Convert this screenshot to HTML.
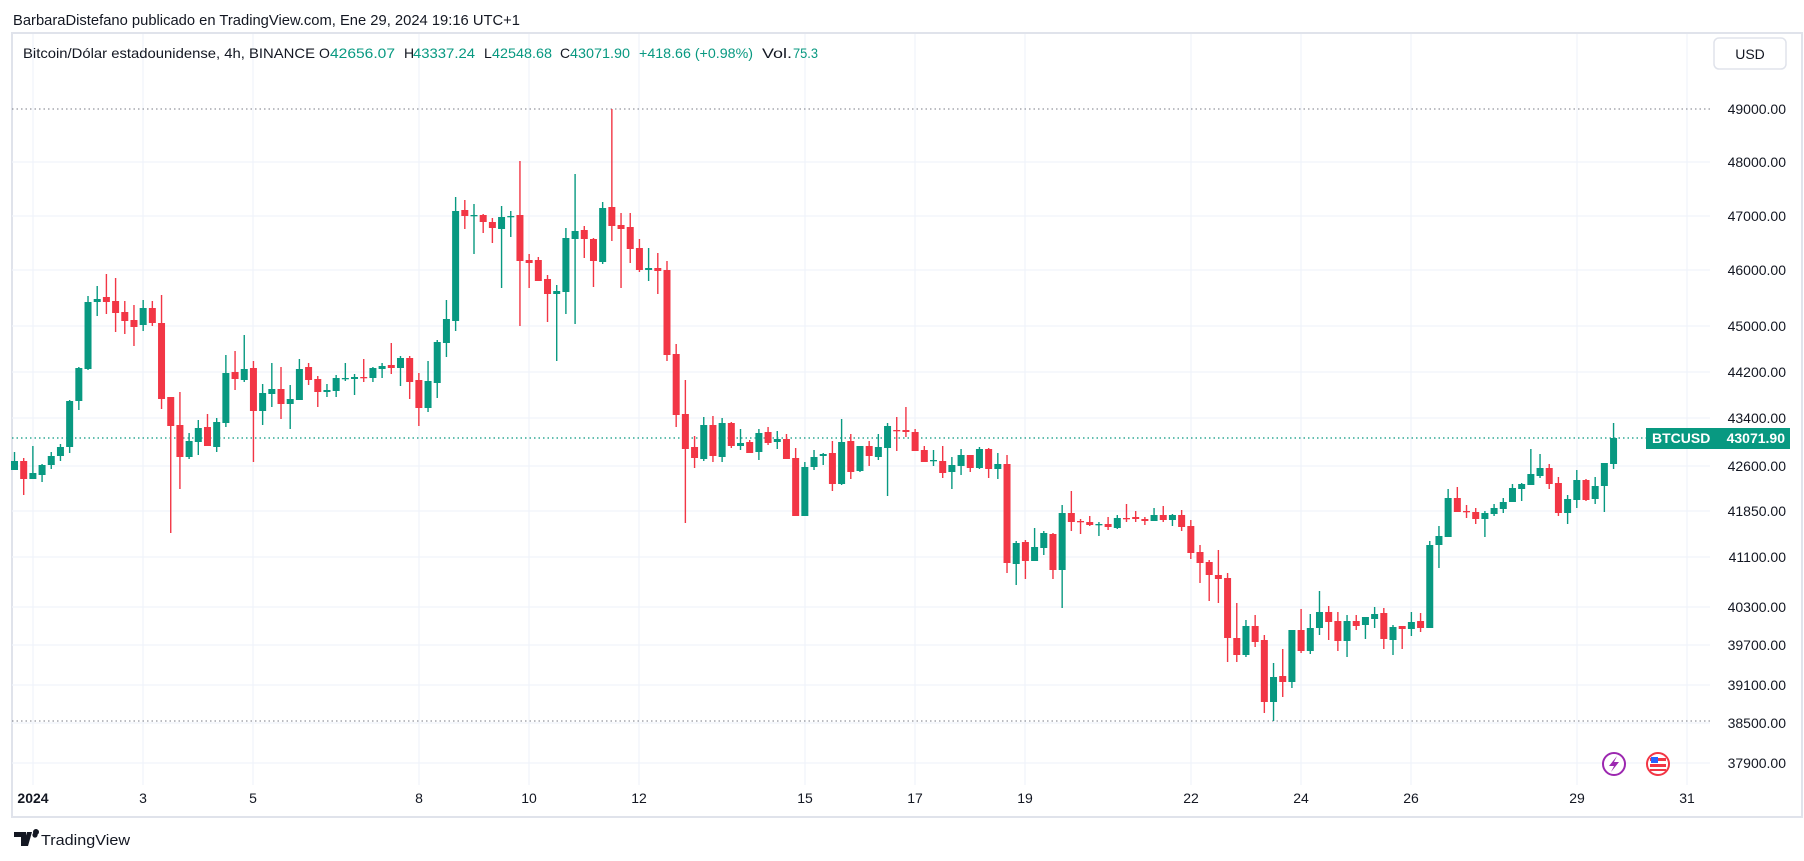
<!DOCTYPE html>
<html><head><meta charset="utf-8"><style>
html,body{margin:0;padding:0;background:#fff;}
svg{display:block;font-family:"Liberation Sans",sans-serif;}
</style></head><body>
<svg id="s" width="1804" height="861" viewBox="0 0 1804 861" xmlns="http://www.w3.org/2000/svg">
<rect width="1804" height="861" fill="#fff"/>
<text x="13" y="25" font-size="15" fill="#131722" textLength="507" lengthAdjust="spacingAndGlyphs">BarbaraDistefano publicado en TradingView.com, Ene 29, 2024 19:16 UTC+1</text>
<rect x="12" y="33" width="1790" height="784" fill="none" stroke="#e0e3eb" stroke-width="2"/>
<g id="grid" stroke="#f0f3fa" stroke-width="1.2"></g>
<g font-size="14" fill="#131722">
<text x="23" y="58" textLength="292" lengthAdjust="spacingAndGlyphs">Bitcoin/Dólar estadounidense, 4h, BINANCE</text>
<text x="319" y="58">O</text><text x="330" y="58" fill="#089981" textLength="65" lengthAdjust="spacingAndGlyphs">42656.07</text>
<text x="404" y="58">H</text><text x="413" y="58" fill="#089981" textLength="62" lengthAdjust="spacingAndGlyphs">43337.24</text>
<text x="484" y="58">L</text><text x="492" y="58" fill="#089981" textLength="60" lengthAdjust="spacingAndGlyphs">42548.68</text>
<text x="560" y="58">C</text><text x="570" y="58" fill="#089981" textLength="60" lengthAdjust="spacingAndGlyphs">43071.90</text>
<text x="639" y="58" fill="#089981" textLength="114" lengthAdjust="spacingAndGlyphs">+418.66 (+0.98%)</text>
<text x="762" y="58" textLength="30" lengthAdjust="spacingAndGlyphs">Vol.</text><text x="793" y="58" fill="#089981" textLength="25" lengthAdjust="spacingAndGlyphs">75.3</text>
</g>
<rect x="1714" y="38" width="72" height="31" rx="5" fill="#fff" stroke="#e0e3eb" stroke-width="1.5"/>
<text x="1750" y="59" font-size="14" fill="#131722" text-anchor="middle">USD</text>
<line x1="12" y1="109" x2="1710" y2="109" stroke="#787b86" stroke-width="1" stroke-dasharray="1.5 3"/>
<line x1="12" y1="721" x2="1710" y2="721" stroke="#787b86" stroke-width="1" stroke-dasharray="1.5 3"/>
<line x1="12" y1="438" x2="1646" y2="438" stroke="#089981" stroke-width="1.2" stroke-dasharray="1.5 3"/>
<g id="c"></g>
<g font-size="14" fill="#131722" text-anchor="end" id="pl">
<text x="1786" y="114">49000.00</text><text x="1786" y="167">48000.00</text><text x="1786" y="221">47000.00</text>
<text x="1786" y="275">46000.00</text><text x="1786" y="331">45000.00</text><text x="1786" y="377">44200.00</text>
<text x="1786" y="423">43400.00</text><text x="1786" y="471">42600.00</text><text x="1786" y="516">41850.00</text>
<text x="1786" y="562">41100.00</text><text x="1786" y="612">40300.00</text><text x="1786" y="650">39700.00</text>
<text x="1786" y="690">39100.00</text><text x="1786" y="728">38500.00</text><text x="1786" y="768">37900.00</text>
</g>
<rect x="1646" y="428" width="144" height="21" fill="#089981"/>
<text x="1652" y="443" font-size="14" font-weight="bold" fill="#fff">BTCUSD</text>
<text x="1785" y="443" font-size="14" font-weight="bold" fill="#fff" text-anchor="end">43071.90</text>
<g font-size="14" fill="#131722" text-anchor="middle">
<text x="33" y="803" font-weight="bold">2024</text><text x="143" y="803">3</text><text x="253" y="803">5</text>
<text x="419" y="803">8</text><text x="529" y="803">10</text><text x="639" y="803">12</text>
<text x="805" y="803">15</text><text x="915" y="803">17</text><text x="1025" y="803">19</text>
<text x="1191" y="803">22</text><text x="1301" y="803">24</text><text x="1411" y="803">26</text>
<text x="1577" y="803">29</text><text x="1687" y="803">31</text>
</g>
<circle cx="1614" cy="764" r="11" fill="#fff" stroke="#9c27b0" stroke-width="2"/>
<path d="M1617 756 L1609 766 L1614 766 L1611 772 L1619 762 L1614 762 Z" fill="#9c27b0"/>
<circle cx="1658" cy="764" r="11" fill="#fff" stroke="#f23645" stroke-width="2"/>
<rect x="1650" y="758" width="16" height="3" fill="#f23645"/><rect x="1650" y="764" width="16" height="3" fill="#f23645"/><rect x="1650" y="769" width="16" height="2" fill="#f23645"/>
<rect x="1651" y="757" width="7" height="6" fill="#2962ff"/>
<path d="M14 832 h12 v14 h-5 v-9 h-7z M27 832 h5 l-4 14 h-5z M33 832 a3 3 0 1 1 0 0.1z" fill="#131722"/>
<circle cx="35" cy="835" r="2.6" fill="#131722"/>
<text x="41" y="845" font-size="15" fill="#131722" textLength="89" lengthAdjust="spacingAndGlyphs">TradingView</text>
</svg>
<script>
var NS="http://www.w3.org/2000/svg";
var g=document.getElementById("grid");
function ln(p,x1,y1,x2,y2){var l=document.createElementNS(NS,"line");l.setAttribute("x1",x1);l.setAttribute("y1",y1);l.setAttribute("x2",x2);l.setAttribute("y2",y2);p.appendChild(l);}
[162,216,270,326,372,418,466,511,557,607,645,685,723,763].forEach(function(y){ln(g,12,y,1710,y);});
[33,143,253,419,529,639,805,915,1025,1191,1301,1411,1577,1687].forEach(function(x){ln(g,x,34,x,785);});
var d=[[1,461,470,452,470],[0,461,479,458,495],[1,473,479,446,479],[1,465,475,464,482],[1,456,465,452,469],[1,447,456,444,461],[1,401,447,400,453],[1,368,401,367,410],[1,302,369,296,370],[1,299,302,286,316],[0,297,302,274,314],[0,301,313,278,332],[0,312,321,301,334],[0,320,327,305,346],[1,308,325,300,331],[0,308,323,301,326],[0,323,399,295,409],[0,397,426,397,533],[0,425,457,392,489],[1,441,457,433,459],[1,428,442,420,455],[0,427,446,414,446],[1,422,447,418,452],[1,373,423,355,427],[0,372,379,351,390],[1,369,380,335,382],[0,368,411,361,462],[1,393,411,384,425],[1,389,394,363,407],[0,389,404,367,419],[1,399,404,385,429],[1,369,400,359,400],[0,367,380,363,385],[0,379,392,376,407],[1,390,392,384,397],[1,378,391,375,397],[1,378,379,363,381],[1,377,379,374,395],[0,377,378,359,382],[1,368,378,367,382],[1,366,369,363,378],[0,365,368,343,374],[1,358,368,356,386],[0,358,382,356,399],[0,380,408,373,426],[1,381,408,361,412],[1,342,383,340,398],[1,319,343,300,357],[1,211,321,197,331],[0,210,216,200,229],[1,215,216,204,254],[0,215,222,214,233],[0,222,228,218,243],[1,217,229,206,288],[1,216,217,211,237],[0,215,261,161,326],[0,260,263,254,288],[0,260,281,257,281],[0,279,294,275,322],[1,291,294,285,361],[1,238,292,228,314],[1,231,239,174,324],[0,230,239,226,258],[0,239,261,238,287],[1,208,262,202,264],[0,207,226,109,241],[0,225,229,213,288],[0,227,249,213,263],[0,248,270,239,272],[1,268,270,248,281],[0,268,271,253,294],[0,270,355,261,361],[0,354,415,344,427],[0,414,449,380,523],[0,447,458,436,468],[1,425,459,417,461],[0,425,456,416,462],[1,423,457,418,462],[0,423,446,422,448],[1,443,446,429,450],[0,442,453,440,453],[1,433,452,429,460],[0,432,443,427,445],[1,439,442,431,449],[0,439,459,434,459],[0,458,516,448,516],[1,467,516,462,516],[1,457,467,450,470],[1,454,456,453,465],[0,453,484,441,491],[1,442,484,419,485],[0,441,472,434,479],[1,446,471,446,472],[0,446,456,441,466],[1,447,457,434,460],[1,426,448,423,496],[0,430,431,417,451],[0,430,432,407,437],[0,432,451,429,451],[0,450,462,446,462],[1,460,461,450,466],[0,461,473,446,478],[1,465,472,457,489],[1,455,466,449,475],[0,455,468,455,472],[1,449,468,447,469],[0,449,469,448,478],[1,464,469,453,479],[0,464,563,455,573],[1,543,564,541,585],[0,542,561,540,579],[1,547,561,528,561],[1,533,548,531,555],[0,534,570,533,579],[1,513,570,505,608],[0,513,522,491,531],[0,521,522,519,534],[0,522,525,516,526],[1,524,525,522,536],[0,524,527,517,530],[1,518,528,515,529],[0,518,519,504,522],[0,517,519,511,522],[0,519,521,517,525],[1,515,521,508,521],[0,515,520,506,522],[1,515,520,514,526],[0,515,527,510,531],[0,526,553,520,559],[0,552,563,545,583],[0,562,575,560,601],[0,575,579,550,603],[0,578,638,573,662],[0,638,655,603,662],[1,626,655,620,657],[0,626,642,615,647],[0,640,702,635,713],[1,677,702,663,721],[0,676,682,649,697],[1,630,682,630,688],[0,630,651,609,653],[1,628,651,614,654],[1,612,628,591,635],[0,612,622,606,640],[0,621,641,612,651],[1,621,641,615,657],[0,621,626,615,630],[1,617,625,617,639],[1,614,619,607,628],[0,613,639,608,649],[1,627,640,625,655],[0,626,629,626,649],[1,622,629,612,636],[0,621,628,613,632],[1,545,628,541,628],[1,536,545,526,568],[1,498,537,489,537],[0,498,512,487,512],[0,511,512,505,518],[0,512,519,508,524],[1,513,519,511,537],[1,508,514,504,516],[1,502,509,498,513],[1,488,502,484,502],[1,484,489,483,501],[1,474,485,449,485],[1,468,476,454,478],[0,468,484,464,489],[0,483,513,477,516],[1,499,513,495,524],[1,480,500,470,508],[0,480,500,479,501],[1,486,499,477,504],[1,463,486,463,512],[1,438,464,423,469]];
var c=document.getElementById("c");
d.forEach(function(r,i){
 var x=14.5+9.19*i, col=r[0]?"#089981":"#F23645";
 var w=document.createElementNS(NS,"rect");w.setAttribute("x",x-0.7);w.setAttribute("y",r[3]);w.setAttribute("width",1.4);w.setAttribute("height",Math.max(1,r[4]-r[3]));w.setAttribute("fill",col);c.appendChild(w);
 var b=document.createElementNS(NS,"rect");b.setAttribute("x",x-3.5);b.setAttribute("y",r[1]);b.setAttribute("width",7);b.setAttribute("height",Math.max(1.3,r[2]-r[1]));b.setAttribute("fill",col);c.appendChild(b);
});
</script>
</body></html>
